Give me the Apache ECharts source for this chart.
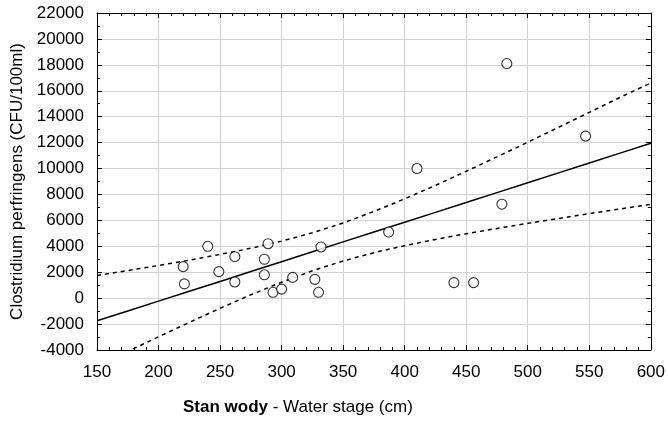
<!DOCTYPE html>
<html>
<head>
<meta charset="utf-8">
<script src="https://cdn.jsdelivr.net/npm/echarts@6/dist/echarts.min.js"></script>
<style>
html,body{margin:0;padding:0;background:#fff;}
#chart{width:668px;height:424px;}
</style>
</head>
<body>
<div id="chart"></div>
<script>
// Observed points: water stage (cm) vs Clostridium perfringens (CFU/100ml)
const stageCm = [220, 221, 240, 249, 262, 262, 286, 286, 289, 293, 300, 309, 327, 330, 332, 387, 410, 440, 456, 479, 483, 547];
const cfu = [2430, 1100, 4000, 2050, 3200, 1250, 3000, 1800, 4200, 450, 700, 1600, 1450, 450, 3950, 5100, 10000, 1200, 1200, 7250, 18100, 12500];

// Fitted line and confidence band
const bandX = [150, 175, 200, 225, 250, 275, 300, 325, 350, 375, 400, 425, 450, 475, 500, 525, 550, 575, 600];
const fitY = [-1750, -990, -230, 530, 1290, 2055, 2815, 3575, 4340, 5100, 5860, 6620, 7380, 8140, 8900, 9665, 10425, 11190, 11950];
const upperY = [1750, 2130, 2520, 2930, 3370, 3850, 4400, 5040, 5800, 6690, 7660, 8700, 9790, 10900, 12030, 13180, 14330, 15490, 16600];
const lowerY = [-5250, -4110, -2980, -1870, -780, 260, 1230, 2110, 2870, 3510, 4050, 4530, 4970, 5380, 5770, 6150, 6520, 6880, 7240];

const xTicks = {min: 150, max: 600, interval: 50};
const yTicks = {min: -4000, max: 22000, interval: 2000};

const FONT = 'Liberation Sans';
const pair = (xs, ys) => xs.map((x, i) => [x, ys[i]]);

const tickStyle = {color: '#000', width: 1};
function xAx(pos, main) {
  return {
    type: 'value', position: pos, min: xTicks.min, max: xTicks.max, interval: xTicks.interval,
    axisLine: {show: true, onZero: false, lineStyle: {color: '#000', width: 1}},
    axisTick: {show: true, inside: true, length: 5, lineStyle: tickStyle},
    minorTick: {show: true, splitNumber: 5, length: 3, lineStyle: tickStyle},
    splitLine: {show: main, lineStyle: {color: '#d2d2d2', width: 1}},
    axisLabel: {show: main, color: '#000', fontSize: 17, fontFamily: FONT, margin: 14,
                formatter: v => String(v)}
  };
}
function yAx(pos, main) {
  return {
    type: 'value', position: pos, min: yTicks.min, max: yTicks.max, interval: yTicks.interval,
    axisLine: {show: true, onZero: false, lineStyle: {color: '#000', width: 1}},
    axisTick: {show: true, inside: true, length: 5, lineStyle: tickStyle},
    minorTick: {show: true, splitNumber: 2, length: 3, lineStyle: tickStyle},
    splitLine: {show: main, lineStyle: {color: '#d2d2d2', width: 1}},
    axisLabel: {show: main, color: '#000', fontSize: 17, fontFamily: FONT, margin: 13,
                formatter: v => String(v)},
    name: main ? 'Clostridium perfringens (CFU/100ml)' : '',
    nameLocation: 'middle', nameGap: 64,
    nameTextStyle: {color: '#000', fontSize: 17, fontFamily: FONT}
  };
}

const chart = echarts.init(document.getElementById('chart'), null, {renderer: 'canvas'});
chart.setOption({
  animation: false,
  backgroundColor: '#fff',
  grid: {left: 97, right: 15, top: 13, bottom: 74, containLabel: false},
  title: {
    text: '{b|Stan wody} - Water stage (cm)',
    left: 183, top: 399, padding: 0,
    textStyle: {
      color: '#000', fontSize: 17, fontFamily: FONT, fontWeight: 'normal',
      rich: {b: {color: '#000', fontSize: 17, fontFamily: FONT, fontWeight: 'bold'}}
    }
  },
  xAxis: [xAx('bottom', true), xAx('top', false)],
  yAxis: [yAx('left', true), yAx('right', false)],
  series: [
    {type: 'line', data: pair(bandX, upperY), showSymbol: false, symbol: 'none', clip: true,
     lineStyle: {color: '#000', width: 1.5, type: [4, 4]}, z: 2},
    {type: 'line', data: pair(bandX, lowerY), showSymbol: false, symbol: 'none', clip: true,
     lineStyle: {color: '#000', width: 1.5, type: [4, 4]}, z: 2},
    {type: 'line', data: pair(bandX, fitY), showSymbol: false, symbol: 'none', clip: true,
     lineStyle: {color: '#000', width: 1.5}, z: 3},
    {type: 'scatter', data: pair(stageCm, cfu), symbol: 'circle', symbolSize: 10,
     itemStyle: {color: '#fff', borderColor: '#000', borderWidth: 1.1}, z: 5}
  ]
});
</script>
</body>
</html>
